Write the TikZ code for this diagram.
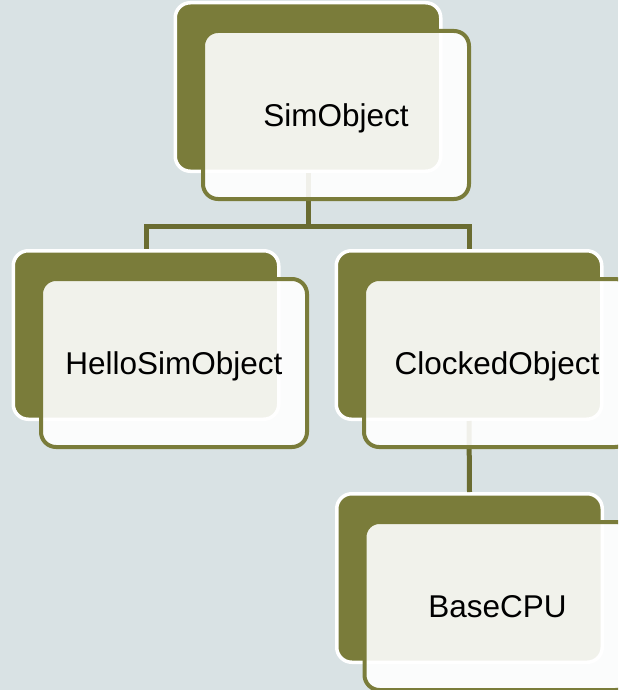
\documentclass[tikz,border=0pt]{standalone}
\usepackage{fontspec}
\setmainfont{Liberation Sans}
\definecolor{bgc}{HTML}{D9E2E4}
\definecolor{olive}{HTML}{7A7C3A}
\definecolor{linkc}{HTML}{6A6C31}
\tikzset{
  backbox/.style={draw=white, line width=3.5pt, fill=olive, rounded corners=15pt,
    minimum width=265.5pt, minimum height=168.5pt, inner sep=0pt},
  frontbox/.style={draw=olive, line width=4pt, fill=white, fill opacity=0.9,
    text opacity=1, rounded corners=15pt,
    minimum width=266pt, minimum height=168pt, inner sep=0pt,
    text depth=0pt, font=\fontsize{31.5}{36}\selectfont},
  link/.style={draw=linkc, line width=5pt, line join=miter},
}
\begin{document}
\begin{tikzpicture}[x=1pt, y=-1pt]
  % canvas
  \useasboundingbox (0,0) rectangle (618,690);
  \fill[bgc] (0,0) rectangle (618,690);
  \clip (0,0) rectangle (618,690);

  % dark back plates
  \node[backbox] (simB)   at (308,87)    {};
  \node[backbox] (helloB) at (146,335)   {};
  \node[backbox] (clockB) at (469,335)   {};
  \node[backbox] (cpuB)   at (469.5,578) {};

  % connectors, beneath the front cards
  \coordinate (bus) at ([yshift=-53.5]simB.south);
  \draw[link] (simB.south) -- (bus) -| (helloB.north);
  \draw[link] (bus) -| (clockB.north);
  \draw[link] (clockB.south) -- (cpuB.north);

  % offset translucent front cards with the class names
  \node[frontbox] (sim)   at ([shift={(28,28)}]simB.center)   {SimObject};
  \node[frontbox] (hello) at ([shift={(28,28)}]helloB.center) {HelloSimObject};
  \node[frontbox] (clock) at ([shift={(28,28)}]clockB.center) {ClockedObject};
  \node[frontbox] (cpu)   at ([shift={(28,28)}]cpuB.center)   {BaseCPU};
\end{tikzpicture}
\end{document}
